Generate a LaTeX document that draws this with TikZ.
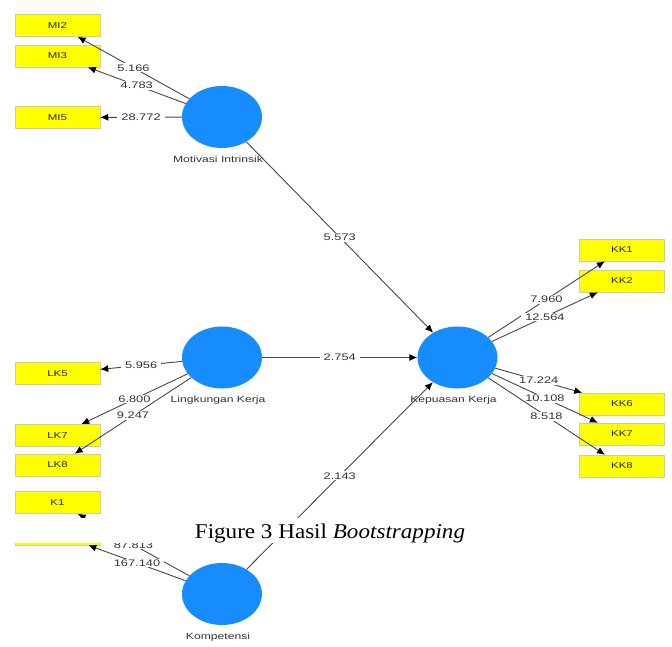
\documentclass[tikz,border=0pt]{standalone}
\usepackage{fontspec}
\usepackage{xcolor}
\usepackage{tikz}
\usetikzlibrary{shapes.geometric,arrows.meta}
\newfontfamily\plsfont[FakeStretch=1.35]{Liberation Sans}
\newfontfamily\capfont[FakeStretch=1.1]{Liberation Serif}
\definecolor{lvblue}{RGB}{22,140,255}
\definecolor{indyellow}{RGB}{255,255,0}
\definecolor{indborder}{RGB}{205,205,160}
\tikzset{
  latent/.style={ellipse,fill=lvblue,minimum width=80pt,minimum height=62pt,inner sep=0pt},
  indicator/.style={rectangle,fill=indyellow,draw=indborder,line width=0.5pt,
    minimum width=85pt,minimum height=22pt,inner sep=0pt,
    font=\plsfont\fontsize{8.5}{9}\selectfont,text=black!85},
  lvname/.style={font=\plsfont\fontsize{9}{10}\selectfont,text=black!80,label distance=4pt,xshift=-4pt},
  link/.style={draw=black!72,line width=0.9pt,-{Latex[length=8pt,width=7pt,color=black]}},
  tval/.style={midway,fill=white,inner xsep=4pt,inner ysep=1pt,font=\plsfont\fontsize{9.5}{10}\selectfont,text=black!80}
}

\begin{document}
\begin{tikzpicture}[x=1pt,y=-1pt]
\useasboundingbox (0,0) rectangle (672,646);

% Latent variables
\node[latent,label={[lvname]below:Motivasi Intrinsik}] (mi) at (222,117) {};
\node[latent,label={[lvname]below:Lingkungan Kerja}] (lk) at (222,357.5) {};
\node[latent,label={[lvname]below:Kompetensi}] (k) at (222,594) {};
\node[latent,label={[lvname]below:Kepuasan Kerja}] (kk) at (457.5,357.5) {};

% Indicators (left)
\node[indicator] (mi2) at (57.5,25.5) {MI2};
\node[indicator] (mi3) at (57.5,56) {MI3};
\node[indicator] (mi5) at (57.5,117.5) {MI5};
\node[indicator] (lk5) at (57.5,373.5) {LK5};
\node[indicator] (lk7) at (57.5,435.5) {LK7};
\node[indicator] (lk8) at (57.5,465) {LK8};
\node[indicator] (k1) at (57.5,502.5) {K1};
\node[indicator] (k2) at (57.5,534) {};

% Indicators (right)
\node[indicator] (kk1) at (622,250) {KK1};
\node[indicator] (kk2) at (622,281) {KK2};
\node[indicator] (kk6) at (622,404) {KK6};
\node[indicator] (kk7) at (622,434) {KK7};
\node[indicator] (kk8) at (622,466) {KK8};

% Outer loadings
\draw[link] (mi) -- node[tval] {5.166} (mi2);
\draw[link] (mi) -- node[tval] {4.783} (mi3);
\draw[link] (mi) -- node[tval] {28.772} (mi5);
\draw[link] (lk) -- node[tval] {5.956} (lk5);
\draw[link] (lk) -- node[tval] {6.800} (lk7);
\draw[link] (lk) -- node[tval] {9.247} (lk8);
\draw[link] (k) -- node[tval] {87.813} (k1);
\draw[link] (k) -- node[tval] {167.140} (k2);
\draw[link] (kk) -- node[tval] {7.960} (kk1);
\draw[link] (kk) -- node[tval] {12.564} (kk2);
\draw[link] (kk) -- node[tval] {17.224} (kk6);
\draw[link] (kk) -- node[tval] {10.108} (kk7);
\draw[link] (kk) -- node[tval] {8.518} (kk8);

% Inner model
\draw[link] (mi) -- node[tval] {5.573} (kk);
\draw[link] (lk) -- node[tval] {2.754} (kk);
\draw[link] (k) -- node[tval] {2.143} (kk);

% Caption strip over the screenshot
\fill[white] (0,518) rectangle (672,543);
\node[font=\capfont\fontsize{21}{24}\selectfont,anchor=base] (caption) at (330,538)
  {Figure 3 Hasil \textit{Bootstrapping}};
\end{tikzpicture}
\end{document}
